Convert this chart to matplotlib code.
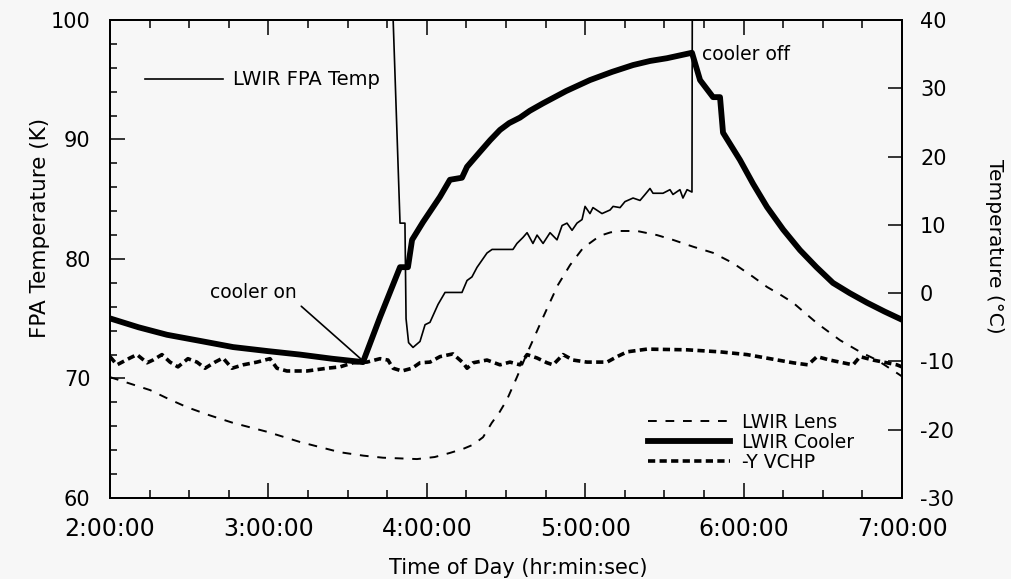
import matplotlib
matplotlib.use("Agg")
import matplotlib.pyplot as plt
from matplotlib.lines import Line2D
from matplotlib.ticker import MultipleLocator, FuncFormatter

plt.rcParams["font.family"] = "DejaVu Sans"
plt.rcParams["axes.unicode_minus"] = False

# LWIR FPA temperature (K, left axis); hours of day
fpa_t = [3.785, 3.831, 3.862, 3.869, 3.885, 3.913, 3.957, 3.989, 4.020, 4.071,
         4.115, 4.134, 4.222, 4.254, 4.285, 4.317, 4.380, 4.412, 4.462, 4.544,
         4.569, 4.607, 4.633, 4.670, 4.696, 4.734, 4.778, 4.822, 4.854, 4.885,
         4.917, 4.948, 4.980, 4.999, 5.030, 5.049, 5.106, 5.157, 5.176, 5.220,
         5.251, 5.302, 5.346, 5.378, 5.409, 5.428, 5.491, 5.535, 5.554, 5.598,
         5.617, 5.643, 5.674, 5.676]
fpa_k = [101.0, 83.0, 83.0, 75.0, 73.0, 72.6, 73.1, 74.5, 74.7, 76.2,
         77.2, 77.2, 77.2, 78.2, 78.5, 79.3, 80.5, 80.8, 80.8, 80.8,
         81.3, 81.8, 82.2, 81.3, 82.0, 81.3, 82.2, 81.6, 82.8, 83.0,
         82.4, 83.0, 83.3, 84.4, 83.8, 84.3, 83.8, 84.1, 84.4, 84.3,
         84.8, 85.1, 84.9, 85.4, 85.9, 85.5, 85.5, 85.8, 85.4, 85.8,
         85.1, 85.8, 85.6, 101.0]

# LWIR lens (deg C, right axis)
lens_t = [2.0, 2.12, 2.253, 2.37, 2.486, 2.63, 2.777, 2.991, 3.2, 3.452,
          3.6, 3.723, 3.938, 4.05, 4.146, 4.23, 4.292, 4.355, 4.41, 4.46,
          4.506, 4.569, 4.633, 4.670, 4.727, 4.778, 4.828, 4.904, 4.986, 5.093,
          5.16, 5.220, 5.327, 5.453, 5.554, 5.681, 5.807, 5.933, 6.059, 6.148,
          6.23, 6.312, 6.463, 6.609, 6.735, 6.842, 6.968, 7.0]
lens_c = [-12.3, -13.2, -14.2, -15.5, -16.7, -17.9, -19.0, -20.3, -21.8, -23.3,
          -23.8, -24.1, -24.3, -24.0, -23.4, -22.8, -22.2, -21.1, -19.0, -17.4,
          -15.6, -12.3, -8.8, -6.9, -3.9, -1.3, 1.2, 4.1, 6.6, 8.4,
          8.9, 9.1, 9.1, 8.5, 7.8, 6.8, 5.9, 4.4, 2.4, 0.9,
          -0.2, -1.4, -4.4, -6.9, -8.6, -9.8, -11.7, -12.2]

# LWIR cooler (deg C, right axis)
cooler_t = [2.0, 2.18, 2.36, 2.57, 2.777, 3.0, 3.2, 3.4, 3.597, 3.705,
            3.831, 3.881, 3.907, 3.976, 4.083, 4.146, 4.222, 4.254, 4.336, 4.40,
            4.462, 4.52, 4.588, 4.65, 4.734, 4.88, 5.03, 5.17, 5.302, 5.41,
            5.516, 5.674, 5.725, 5.807, 5.851, 5.87, 5.977, 6.06, 6.148, 6.25,
            6.356, 6.46, 6.564, 6.67, 6.779, 6.89, 7.0]
cooler_c = [-3.7, -5.0, -6.1, -7.0, -7.9, -8.5, -9.0, -9.6, -10.1, -3.5,
            3.8, 3.8, 7.8, 10.4, 14.1, 16.6, 16.9, 18.5, 20.7, 22.4,
            23.9, 24.9, 25.7, 26.7, 27.8, 29.6, 31.2, 32.4, 33.4, 34.0,
            34.4, 35.2, 31.2, 28.7, 28.7, 23.5, 19.5, 16.0, 12.6, 9.3,
            6.3, 3.8, 1.5, 0.0, -1.4, -2.7, -3.9]

# -Y VCHP (deg C, right axis)
vchp_t = [2.0, 2.044, 2.126, 2.170, 2.234, 2.271, 2.328, 2.379, 2.429, 2.492,
          2.549, 2.600, 2.663, 2.713, 2.770, 2.840, 2.928, 3.010, 3.054, 3.117,
          3.244, 3.370, 3.452, 3.534, 3.622, 3.705, 3.755, 3.787, 3.843, 3.907,
          3.957, 4.020, 4.083, 4.165, 4.229, 4.254, 4.292, 4.380, 4.462, 4.525,
          4.588, 4.633, 4.696, 4.759, 4.797, 4.860, 4.923, 5.011, 5.138, 5.201,
          5.264, 5.390, 5.643, 5.852, 6.021, 6.167, 6.312, 6.407, 6.463, 6.545,
          6.628, 6.691, 6.735, 6.817, 6.905, 6.968, 7.0]
vchp_c = [-9.3, -10.5, -9.5, -9.0, -10.2, -9.8, -9.0, -10.1, -10.8, -9.6,
          -10.1, -11.0, -10.1, -9.5, -11.0, -10.5, -10.1, -9.6, -11.0, -11.4,
          -11.4, -11.0, -10.8, -10.2, -10.1, -9.6, -9.8, -11.0, -11.4, -11.0,
          -10.2, -10.1, -9.3, -8.9, -10.2, -11.0, -10.2, -9.8, -10.5, -10.1,
          -10.5, -9.0, -9.5, -10.2, -10.5, -9.0, -9.8, -10.1, -10.1, -9.3,
          -8.6, -8.2, -8.3, -8.6, -9.0, -9.6, -10.2, -10.5, -9.3, -9.8,
          -10.2, -10.5, -9.3, -9.8, -10.2, -10.5, -10.8]

hour_ticks = [2, 3, 4, 5, 6, 7]

bg = "#f7f7f7"
fig = plt.figure(figsize=(10.11, 5.79), dpi=100, facecolor=bg)
ax = fig.add_axes([0.1088, 0.1399, 0.7834, 0.8256], facecolor=bg)
ax2 = ax.twinx()

ax.plot(fpa_t, fpa_k, color="black", lw=1.2)
ax2.plot(lens_t, lens_c, color="black", lw=1.4, dashes=(4.5, 4.5))
ax2.plot(cooler_t, cooler_c, color="black", lw=4.2, solid_joinstyle="round")
ax2.plot(vchp_t, vchp_c, color="black", lw=2.6, dashes=(2.0, 1.2))

ax.set_xlim(2, 7)
ax.set_ylim(60, 100)
ax2.set_ylim(-30, 40)

ax.set_xticks(hour_ticks)
ax.xaxis.set_major_formatter(FuncFormatter(lambda v, p: f"{int(round(v))}:00:00"))
ax.xaxis.set_minor_locator(MultipleLocator(0.25))
ax.yaxis.set_major_locator(MultipleLocator(10))
ax.yaxis.set_minor_locator(MultipleLocator(2))
ax2.yaxis.set_major_locator(MultipleLocator(10))

ax.tick_params(axis="x", which="both", direction="in", top=True, width=1.1)
ax.tick_params(axis="x", which="major", length=10.5, pad=14, labelsize=17)
ax.tick_params(axis="x", which="minor", length=5.5)
ax.tick_params(axis="y", which="both", direction="in", right=False, width=1.1)
ax.tick_params(axis="y", which="major", length=10.5, pad=14, labelsize=15)
ax.tick_params(axis="y", which="minor", length=5)
ax2.tick_params(axis="y", which="major", direction="in", length=10, width=1.1,
                pad=13, labelsize=15)

for a in (ax, ax2):
    for s in a.spines.values():
        s.set_linewidth(1.4)

ax.set_xlabel("Time of Day (hr:min:sec)", fontsize=15, va="center", ha="center")
ax.xaxis.set_label_coords(0.516, -0.1464)
ax.set_ylabel("FPA Temperature (K)", fontsize=15.5, va="center", ha="center")
ax.yaxis.set_label_coords(-0.0884, 0.565)
ax2.set_ylabel("Temperature (°C)", fontsize=14.5, rotation=270,
               va="center", ha="center")
ax2.yaxis.set_label_coords(1.1174, 0.526)

# annotations
ax.annotate("cooler on", xy=(3.591, 71.55), xytext=(2.903, 77.2),
            fontsize=13.5, ha="center", va="center",
            arrowprops=dict(arrowstyle="-", lw=1.2, color="black",
                            relpos=(1, 0), shrinkA=2, shrinkB=0))
ax2.text(5.737, 34.9, "cooler off", fontsize=13.5, ha="left", va="center")

# legends
fpa_handle = [Line2D([], [], color="black", lw=1.2)]
ax.legend(fpa_handle, ["LWIR FPA Temp"], loc="upper left",
          bbox_to_anchor=(0.044, 0.8945), frameon=False, fontsize=14,
          handlelength=4.0, handletextpad=0.55, borderpad=0, borderaxespad=0)

handles = [Line2D([], [], color="black", lw=1.4, dashes=(4.5, 4.5)),
           Line2D([], [], color="black", lw=4.2),
           Line2D([], [], color="black", lw=2.6, dashes=(2.0, 1.2))]
labels = ["LWIR Lens", "LWIR Cooler", "-Y VCHP"]
ax2.legend(handles, labels, loc="upper left", bbox_to_anchor=(0.679, 0.178),
           frameon=False, fontsize=13.5, handlelength=4.4, handletextpad=0.65,
           labelspacing=0.05, borderpad=0, borderaxespad=0)

fig.savefig("out.png", dpi=100, facecolor=bg)
